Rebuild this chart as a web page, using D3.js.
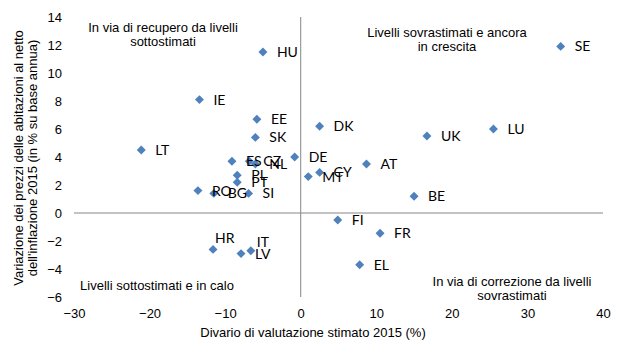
<!DOCTYPE html>
<html>
<head>
<meta charset="utf-8">
<script src="https://cdn.jsdelivr.net/npm/d3@7"></script>
<style>
  body { margin: 0; background: #fff; }
  .tick text { font-family: "Liberation Sans Narrow", "Liberation Sans", Arial, sans-serif; font-size: 13px; fill: #000; }
</style>
</head>
<body>
<div id="chart"></div>
<script>
// Dati: paesi, divario di valutazione (x) e variazione prezzi (y)
const paesi = ["SE","HU","IE","EE","SK","DK","UK","LU","LT","DE","ES","CZ","NL","AT","PL","PT","RO","BG","SI","MT","CY","BE","FI","FR","EL","HR","IT","LV"];
const divario = [34.4,-5.0,-13.4,-5.8,-6.0,2.5,16.7,25.5,-21.1,-0.8,-9.1,-6.8,-6.0,8.7,-8.4,-8.4,-13.6,-11.5,-6.9,1.0,2.5,15.0,4.9,10.5,7.8,-11.6,-6.6,-7.9];
const variazione = [11.9,11.5,8.1,6.7,5.4,6.2,5.5,6.0,4.5,4.0,3.7,3.7,3.5,3.5,2.7,2.2,1.6,1.4,1.4,2.6,2.9,1.2,-0.5,-1.45,-3.7,-2.6,-2.7,-2.9];
const xTicks = [-30,-20,-10,0,10,20,30,40];
const yTicks = [-6,-4,-2,0,2,4,6,8,10,12,14];

// Etichette spostate a mano (come nel grafico originale)
const spostamenti = { HR: [2, -11.5], IT: [6, -9] };

const WIDTH = 630;
const HEIGHT = 350;
const margin = { top: 17, right: 27, bottom: 53, left: 74 };

const svg = d3.select("#chart")
  .append("svg")
  .attr("width", WIDTH)
  .attr("height", HEIGHT);

// Scale
const x = d3.scaleLinear().domain([-30, 40]).range([margin.left, WIDTH - margin.right]);
const y = d3.scaleLinear().domain([-6, 14]).range([HEIGHT - margin.bottom, margin.top]);

// Assi (solo etichette)
svg.append("g")
  .attr("transform", `translate(0, ${HEIGHT - margin.bottom})`)
  .call(d3.axisBottom(x).tickValues(xTicks).tickSize(0).tickPadding(12))
  .call(g => g.select(".domain").remove());

svg.append("g")
  .attr("transform", `translate(${margin.left}, 0)`)
  .call(d3.axisLeft(y).tickValues(yTicks).tickSize(0).tickPadding(12))
  .call(g => g.select(".domain").remove());

// Linee degli assi a zero
svg.append("line")
  .attr("x1", x(-30)).attr("x2", x(40))
  .attr("y1", y(0)).attr("y2", y(0))
  .attr("stroke", "#868686").attr("stroke-width", 1);

svg.append("line")
  .attr("x1", x(0)).attr("x2", x(0))
  .attr("y1", y(-6)).attr("y2", y(14))
  .attr("stroke", "#868686").attr("stroke-width", 1);

// Punti
const dati = paesi.map((p, i) => ({ paese: p, x: divario[i], y: variazione[i] }));

svg.append("g")
  .selectAll("path")
  .data(dati)
  .join("path")
  .attr("d", d3.symbol().type(d3.symbolSquare).size(40))
  .attr("transform", d => `translate(${x(d.x)}, ${y(d.y)}) rotate(45)`)
  .attr("fill", "#4F81BD");

svg.append("g")
  .selectAll("text")
  .data(dati)
  .join("text")
  .attr("x", d => x(d.x) + (spostamenti[d.paese] ? spostamenti[d.paese][0] : 14))
  .attr("y", d => y(d.y) + (spostamenti[d.paese] ? spostamenti[d.paese][1] : 0))
  .attr("dy", "0.36em")
  .style("font-family", "Lato, 'Open Sans', sans-serif")
  .style("font-size", "14px")
  .attr("fill", "#000")
  .text(d => d.paese);

// Testi dei quadranti
const quadranti = [
  { righe: ["In via di recupero da livelli", "sottostimati"], cx: 163, cy: 27 },
  { righe: ["Livelli sovrastimati e ancora", "in crescita"], cx: 447, cy: 32 },
  { righe: ["Livelli sottostimati e in calo"], cx: 157, cy: 285 },
  { righe: ["In via di correzione da livelli", "sovrastimati"], cx: 512, cy: 281 }
];

quadranti.forEach(q => {
  q.righe.forEach((r, i) => {
    svg.append("text")
      .attr("x", q.cx)
      .attr("y", q.cy + i * 14)
      .attr("dy", "0.35em")
      .attr("text-anchor", "middle")
      .style("font-family", "'Liberation Sans Narrow', 'Liberation Sans', Arial, sans-serif")
      .style("font-size", "13px")
      .text(r);
  });
});

// Titoli degli assi
svg.append("text")
  .attr("x", 313)
  .attr("y", 337)
  .attr("text-anchor", "middle")
  .style("font-family", "'Liberation Sans Narrow', 'Liberation Sans', Arial, sans-serif")
  .style("font-size", "13px")
  .text("Divario di valutazione stimato 2015 (%)");

const titoloY = svg.append("text")
  .attr("transform", "translate(0, 158) rotate(-90)")
  .attr("text-anchor", "middle")
  .style("font-family", "'Liberation Sans Narrow', 'Liberation Sans', Arial, sans-serif")
  .style("font-size", "13px");

titoloY.append("tspan").attr("x", 0).attr("y", 23).text("Variazione dei prezzi delle abitazioni al netto");
titoloY.append("tspan").attr("x", 0).attr("y", 37).text("dell'inflazione 2015 (in % su base annua)");
</script>
</body>
</html>
